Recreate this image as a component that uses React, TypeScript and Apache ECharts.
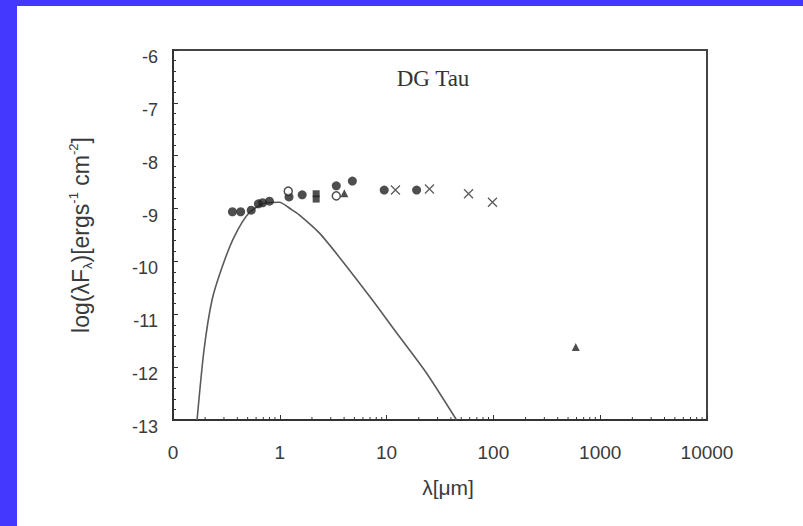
import React, { useEffect, useRef } from "react";
import * as echarts from "echarts";

// Filled circles (λ [μm], log λFλ)
const filledCircles: [number, number][] = [
  [0.36, -9.06], [0.43, -9.06], [0.54, -9.03], [0.63, -8.91], [0.69, -8.89], [0.8, -8.86],
  [1.22, -8.78], [1.62, -8.74], [3.38, -8.57], [4.78, -8.48], [9.5, -8.65], [19.1, -8.65],
];
const openCircles: [number, number][] = [[1.2, -8.67], [3.38, -8.76]];
const filledSquares: [number, number][] = [[2.19, -8.72], [2.19, -8.82]];
const triangles: [number, number][] = [[4.02, -8.71], [590, -11.62]];
const crosses: [number, number][] = [[12.1, -8.65], [25.2, -8.63], [58.5, -8.72], [98, -8.88]];
// Stellar photosphere curve
const curve: [number, number][] = [
  [0.168, -13.0], [0.195, -11.68], [0.232, -10.73], [0.288, -10.11], [0.373, -9.54],
  [0.516, -9.08], [0.744, -8.89], [0.986, -8.88], [1.31, -9.03], [1.52, -9.12],
  [2.34, -9.46], [3.61, -9.92], [7.36, -10.73], [12.4, -11.35], [23.6, -12.11], [45.2, -13.0],
];
const xDecades = [0.1, 1, 10, 100, 1000];
const minorMultipliers = [2, 3, 4, 5, 6, 7, 8, 9];
const xMinorTicks: number[] = [];
xDecades.forEach((d) => minorMultipliers.forEach((m) => xMinorTicks.push(m * d)));

const INK = "#222222";

export default function App() {
  const ref = useRef<HTMLDivElement>(null);
  useEffect(() => {
    if (!ref.current) return;
    const chart = echarts.init(ref.current, null, { renderer: "svg" });
    const sym = { color: INK };
    chart.setOption({
      animation: false,
      backgroundColor: "#ffffff",
      graphic: [
        { type: "rect", shape: { x: 0, y: 0, width: 803, height: 6 }, style: { fill: "#4438ff" }, z: -10 },
        { type: "rect", shape: { x: 0, y: 0, width: 17, height: 526 }, style: { fill: "#4438ff" }, z: -10 },
        {
          type: "text", x: 433, y: 78, z: 10,
          style: { text: "DG Tau", fontFamily: "Liberation Serif", fontSize: 23, fill: "#333", textAlign: "center", textVerticalAlign: "middle" },
        },
      ],
      grid: { left: 173, right: 96, top: 50, height: 370, show: true, borderColor: "#444", borderWidth: 2, backgroundColor: "transparent" },
      xAxis: {
        type: "log", logBase: 10, min: 0.1, max: 10000, splitNumber: 5,
        axisLine: { lineStyle: { color: "#333", width: 2 } },
        axisTick: { inside: true, length: 5, lineStyle: { color: "#333" } },
        splitLine: { show: false },
        axisLabel: {
          margin: 23, fontFamily: "Liberation Sans", fontSize: 19, color: "#3a3a3a",
          formatter: (v: number) => (v < 1 ? "0" : String(Math.round(v))),
        },
        name: "λ[μm]", nameLocation: "middle", nameGap: 57,
        nameTextStyle: { fontFamily: "Liberation Sans", fontSize: 21, color: "#3a3a3a", padding: [0, 0, 0, 16] },
      },
      yAxis: {
        type: "value", min: -13, max: -6, interval: 1,
        axisLine: { show: true, lineStyle: { color: "#333", width: 2 } },
        axisTick: { show: true, inside: true, length: 5, lineStyle: { color: "#333" } },
        minorTick: { show: true, splitNumber: 5, length: 3, lineStyle: { color: "#333" } },
        splitLine: { show: false },
        axisLabel: { margin: 15, fontFamily: "Liberation Sans", fontSize: 18, color: "#3a3a3a", verticalAlign: "top", lineHeight: 14 },
        name: "{a|log(λF}{s|λ}{a|)[ergs}{p|-1}{a| cm}{p|-2}{a|]}",
        nameLocation: "middle", nameGap: 79, nameRotate: 90,
        nameTextStyle: {
          color: "#3a3a3a",
          rich: {
            a: { fontFamily: "Liberation Sans", fontSize: 23, color: "#3a3a3a", lineHeight: 27 },
            s: { fontFamily: "Liberation Sans", fontSize: 13, color: "#3a3a3a", verticalAlign: "bottom", lineHeight: 27 },
            p: { fontFamily: "Liberation Sans", fontSize: 13, color: "#3a3a3a", verticalAlign: "top", lineHeight: 27 },
          },
        },
      },
      series: [
        {
          type: "custom", silent: true, z: 1,
          data: xMinorTicks.map((x) => [x, -13]),
          renderItem: (params: any, api: any) => {
            const p = api.coord([api.value(0), api.value(1)]);
            return { type: "line", shape: { x1: p[0], y1: p[1], x2: p[0], y2: p[1] - 3 }, style: { stroke: "#333", lineWidth: 1 } };
          },
        },
        {
          type: "line", data: curve, showSymbol: false, smooth: 0.25, z: 2,
          lineStyle: { color: "#5a5a5a", width: 1.6 },
        },
        { type: "scatter", data: filledCircles, symbol: "circle", symbolSize: 9, itemStyle: sym, z: 3 },
        {
          type: "scatter", data: openCircles, symbol: "circle", symbolSize: 8, z: 3,
          itemStyle: { color: "#ffffff", borderColor: INK, borderWidth: 1.5 },
        },
        { type: "scatter", data: filledSquares, symbol: "rect", symbolSize: 7, itemStyle: sym, z: 3 },
        { type: "scatter", data: triangles, symbol: "triangle", symbolSize: 8, itemStyle: sym, z: 3 },
        {
          type: "scatter", data: crosses, symbol: "path://M0,0L10,10M10,0L0,10", symbolSize: 9, z: 3,
          itemStyle: { color: "none", borderColor: "#333", borderWidth: 1.3 },
        },
      ],
    });
    return () => chart.dispose();
  }, []);
  return (
    <div style={{ position: "fixed", left: 0, top: 0, width: 803, height: 526, background: "#fff" }}>
      <div ref={ref} style={{ width: 803, height: 526 }} />
    </div>
  );
}
